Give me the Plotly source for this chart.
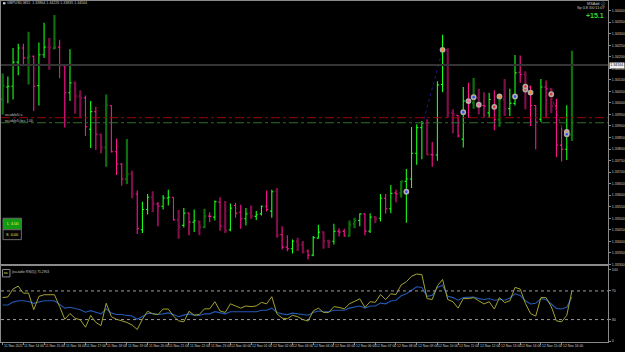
import plotly.graph_objects as go

# ---------------- data (GBPUSD M15, 11 Nov 2021 13:00 -> 12 Nov 2021 16:30) ----------------
opens = [
    1.34015, 1.34069, 1.34072, 1.34177, 1.34238, 1.34195, 1.34202, 1.34075, 1.34209, 1.34242,
    1.34236, 1.34242, 1.34160, 1.34044, 1.34087, 1.34029, 1.34022, 1.33886, 1.33962, 1.33864,
    1.33807, 1.33989, 1.33788, 1.33735, 1.33670, 1.33692, 1.33605, 1.33450, 1.33538, 1.33591,
    1.33562, 1.33552, 1.33588, 1.33591, 1.33493, 1.33469, 1.33522, 1.33483, 1.33486, 1.33462,
    1.33509, 1.33505, 1.33570, 1.33465, 1.33450, 1.33555, 1.33526, 1.33498, 1.33522, 1.33508,
    1.33519, 1.33552, 1.33531, 1.33617, 1.33429, 1.33375, 1.33368, 1.33400, 1.33386, 1.33358,
    1.33340, 1.33414, 1.33440, 1.33401, 1.33400, 1.33444, 1.33443, 1.33423, 1.33476, 1.33490,
    1.33519, 1.33444, 1.33505, 1.33500, 1.33587, 1.33541, 1.33610, 1.33608, 1.33660, 1.33670,
    1.33782, 1.33893, 1.33912, 1.33776, 1.33774, 1.34080, 1.34228, 1.33957, 1.33946, 1.33843,
    1.34008, 1.34000, 1.34022, 1.33989, 1.33957, 1.33986, 1.33929, 1.34015, 1.33975, 1.33998,
    1.34133, 1.34123, 1.34069, 1.33989, 1.33929, 1.34069, 1.34061, 1.33986, 1.33817, 1.33799,
    1.33864]
highs = [
    1.34127, 1.34115, 1.34238, 1.34256, 1.34256, 1.34309, 1.34205, 1.34262, 1.34347, 1.34281,
    1.34381, 1.34274, 1.34161, 1.34233, 1.34093, 1.34055, 1.34032, 1.34008, 1.33983, 1.33866,
    1.34036, 1.33990, 1.33845, 1.33738, 1.33843, 1.33706, 1.33620, 1.33572, 1.33605, 1.33617,
    1.33570, 1.33601, 1.33623, 1.33591, 1.33536, 1.33544, 1.33524, 1.33538, 1.33490, 1.33541,
    1.33526, 1.33577, 1.33591, 1.33575, 1.33564, 1.33567, 1.33559, 1.33544, 1.33555, 1.33531,
    1.33555, 1.33620, 1.33624, 1.33631, 1.33465, 1.33426, 1.33408, 1.33416, 1.33401, 1.33365,
    1.33423, 1.33472, 1.33443, 1.33407, 1.33476, 1.33457, 1.33455, 1.33490, 1.33502, 1.33522,
    1.33519, 1.33522, 1.33509, 1.33605, 1.33605, 1.33644, 1.33624, 1.33663, 1.33713, 1.33896,
    1.33907, 1.33922, 1.33929, 1.33831, 1.34094, 1.34295, 1.34237, 1.33972, 1.33946, 1.34069,
    1.34087, 1.34108, 1.34061, 1.34046, 1.34044, 1.34055, 1.34026, 1.34104, 1.34061, 1.34208,
    1.34205, 1.34137, 1.34075, 1.33989, 1.34104, 1.34097, 1.34065, 1.34018, 1.33893, 1.33990,
    1.34226]
lows = [
    1.33950, 1.33998, 1.34015, 1.34120, 1.34159, 1.34080, 1.33965, 1.33989, 1.34195, 1.34144,
    1.34233, 1.34107, 1.33893, 1.34008, 1.33953, 1.33933, 1.33857, 1.33804, 1.33796, 1.33782,
    1.33723, 1.33785, 1.33687, 1.33641, 1.33649, 1.33587, 1.33432, 1.33436, 1.33516, 1.33526,
    1.33465, 1.33538, 1.33555, 1.33490, 1.33411, 1.33460, 1.33426, 1.33440, 1.33426, 1.33457,
    1.33483, 1.33490, 1.33446, 1.33436, 1.33444, 1.33502, 1.33455, 1.33469, 1.33498, 1.33492,
    1.33512, 1.33529, 1.33502, 1.33416, 1.33365, 1.33357, 1.33347, 1.33358, 1.33347, 1.33321,
    1.33335, 1.33411, 1.33368, 1.33371, 1.33386, 1.33421, 1.33421, 1.33421, 1.33457, 1.33465,
    1.33426, 1.33436, 1.33479, 1.33486, 1.33519, 1.33522, 1.33569, 1.33590, 1.33480, 1.33631,
    1.33732, 1.33756, 1.33774, 1.33723, 1.33749, 1.34046, 1.33936, 1.33868, 1.33850, 1.33807,
    1.33936, 1.33975, 1.33950, 1.33936, 1.33936, 1.33881, 1.33897, 1.33943, 1.33943, 1.33989,
    1.34087, 1.33972, 1.33900, 1.33799, 1.33917, 1.33936, 1.33955, 1.33766, 1.33746, 1.33752,
    1.33835]
closes = [
    1.34075, 1.34072, 1.34177, 1.34238, 1.34195, 1.34202, 1.34072, 1.34209, 1.34242, 1.34240,
    1.34240, 1.34161, 1.34044, 1.34087, 1.34029, 1.34022, 1.33897, 1.33962, 1.33864, 1.33807,
    1.33989, 1.33788, 1.33735, 1.33670, 1.33692, 1.33605, 1.33455, 1.33538, 1.33591, 1.33562,
    1.33552, 1.33588, 1.33591, 1.33493, 1.33462, 1.33522, 1.33483, 1.33489, 1.33462, 1.33509,
    1.33508, 1.33572, 1.33465, 1.33446, 1.33544, 1.33522, 1.33498, 1.33519, 1.33509, 1.33515,
    1.33552, 1.33538, 1.33615, 1.33426, 1.33375, 1.33368, 1.33401, 1.33383, 1.33354, 1.33340,
    1.33416, 1.33440, 1.33401, 1.33397, 1.33443, 1.33440, 1.33423, 1.33472, 1.33490, 1.33519,
    1.33444, 1.33505, 1.33498, 1.33587, 1.33541, 1.33608, 1.33605, 1.33660, 1.33670, 1.33782,
    1.33893, 1.33912, 1.33776, 1.33774, 1.34078, 1.34230, 1.33957, 1.33950, 1.33857, 1.34008,
    1.34000, 1.34022, 1.33989, 1.33986, 1.34015, 1.33929, 1.34015, 1.33975, 1.33998, 1.34130,
    1.34123, 1.34075, 1.33989, 1.33917, 1.34069, 1.34061, 1.33986, 1.33817, 1.33799, 1.33864,
    1.34164]
dim_bars = [0, 5, 9, 10, 14, 15, 19, 20, 24, 25, 29, 34, 38, 39, 43, 48, 53, 57, 58, 62, 63,
            67, 68, 72, 77, 82, 86, 87, 91, 92, 96, 97, 101, 106, 110]

rsi_fast = [
    60.7, 61.6, 72.7, 76.7, 66.9, 66.9, 43.8, 62.4, 64.7, 64.7, 64.7, 48.2, 30.4, 38.4, 31.8,
    29.6, 19.3, 35.8, 26.0, 21.6, 52.7, 34.0, 30.4, 28.2, 26.0, 22.4, 16.2, 30.4, 41.6, 38.0,
    37.1, 44.7, 44.7, 34.9, 28.2, 26.9, 41.6, 36.2, 37.1,
    45, 45, 55, 42, 40, 52, 49, 46, 49, 48, 49, 54, 52, 62, 38, 32, 31, 36, 34, 30, 28, 42, 46,
    40, 40, 48, 47, 45, 52, 55, 59, 47, 55, 54, 65, 58, 66, 65,
    78.4, 82.9, 90.4, 93.6, 92.7, 59.3, 58.0, 77.1, 86.0, 58.0, 54.9, 46.0, 59.3, 59.3, 60.7,
    56.2, 51.8, 54.9, 44.7, 60.7, 53.6, 56.2, 74.9, 72.7, 52.7, 38.4, 34.9, 60.7, 60.7, 48.2,
    28.2, 26.9, 35.8, 70.4]
rsi_slow = [
    50.4, 50.4, 54.4, 56.2, 56.2, 55.3, 52.7, 54.9, 56.2, 56.2, 56.2, 51.3, 46.0, 47.3, 46.0,
    43.8, 40.2, 42.4, 40.2, 38.0, 44.7, 39.3, 37.1, 37.1, 35.8, 34.9, 30.4, 34.9, 38.4, 38.4,
    37.1, 38.0, 39.3, 37.1, 34.0, 36.2, 38.0, 36.2, 35.8,
    38, 38, 41, 39, 38, 41, 41, 40, 41, 41, 41, 43, 43, 46, 40, 38, 37, 39, 38, 37, 36, 40, 42,
    41, 41, 43, 43, 43, 46, 47, 49, 46, 49, 49, 53, 52, 56, 57,
    63.3, 66.0, 71.3, 75.8, 74.9, 62.4, 63.8, 74.9, 78.0, 62.4, 60.7, 57.1, 60.7, 61.6, 61.6,
    59.3, 58.0, 59.3, 57.1, 58.0, 57.1, 60.2, 66.0, 63.8, 56.2, 51.8, 52.7, 59.3, 58.0, 51.8,
    45.6, 44.7, 47.3, 61.6]

time_labels = [
    "11 Nov 2021", "11 Nov 14:00", "11 Nov 15:00", "11 Nov 16:00", "11 Nov 17:00",
    "11 Nov 18:00", "11 Nov 19:00", "11 Nov 20:00", "11 Nov 21:00", "11 Nov 22:00",
    "11 Nov 23:00", "12 Nov 00:00", "12 Nov 01:00", "12 Nov 02:00", "12 Nov 03:00",
    "12 Nov 04:00", "12 Nov 05:00", "12 Nov 06:00", "12 Nov 07:00", "12 Nov 08:00",
    "12 Nov 09:00", "12 Nov 10:00", "12 Nov 11:00", "12 Nov 12:00", "12 Nov 13:00",
    "12 Nov 14:00", "12 Nov 15:00", "12 Nov 16:00"]
time_label_bars = list(range(0, 112, 4))

price_ticks = [round(1.3440 - 0.0005 * k, 4) for k in range(23)]
rsi_ticks = [0, 30, 70, 100]
rsi_levels = [30, 70]

# trade markers (bar, price, centre colour)
sig_bar = [78, 85, 89, 90, 91, 92, 95, 96, 99, 101, 101, 102, 106, 109, 109]
sig_price = [1.33615, 1.34230, 1.33960, 1.34008, 1.34025, 1.33992, 1.33983, 1.34028,
             1.34028, 1.34058, 1.34071, 1.34045, 1.34038, 1.33874, 1.33864]
sig_color = ["#3050ff", "#ff8c1a", "#3050ff", "#ff5fa8", "#3050ff", "#ff5fa8", "#e8303a",
             "#ff8c1a", "#3050ff", "#e8303a", "#e8303a", "#ff8c1a", "#e8303a", "#ff8c1a",
             "#3050ff"]
trend_blue_x, trend_blue_y = [81.4, 85.0], [1.33929, 1.34230]
trend_red_x, trend_red_y = [106.0, 108.3], [1.34029, 1.33878]
level_red = 1.33936
level_green = 1.33914

# ---------------- layout helpers ----------------
W, H = 625, 352
PLOT_W = 610
BAR_PX = 5.2
X0 = -1.7 / BAR_PX
X1 = X0 + PLOT_W / BAR_PX


def pxx(x):
    return x / W


def pxy(y):
    return 1 - y / H


n = len(closes)
bars = list(range(n))
dim_set = set(dim_bars)

GREEN = "#19ff19"
PINK = "#ff1493"
DGREEN = "#0d6e0d"
DPINK = "#7d0e48"
GRAY = "#8a8a8a"
TXT = "#c8c8c8"
FONT = "Liberation Sans"


def pick(vals, keep):
    return [v if keep(i) else None for i, v in enumerate(vals)]


fig = go.Figure()
for keep, inc, dec, wid in [
    (lambda i: i in dim_set, DGREEN, DPINK, 2.2),
    (lambda i: i not in dim_set, GREEN, PINK, 1.1),
]:
    fig.add_trace(go.Ohlc(
        x=bars, open=pick(opens, keep), high=pick(highs, keep), low=pick(lows, keep),
        close=pick(closes, keep), tickwidth=0.32, xaxis="x", yaxis="y",
        increasing=dict(line=dict(color=inc, width=wid)),
        decreasing=dict(line=dict(color=dec, width=wid)),
        hoverinfo="skip", showlegend=False))

fig.add_trace(go.Scatter(x=trend_blue_x, y=trend_blue_y, mode="lines", xaxis="x", yaxis="y",
                         line=dict(color="#1c1c80", width=1, dash="dot"), showlegend=False))
fig.add_trace(go.Scatter(x=trend_red_x, y=trend_red_y, mode="lines", xaxis="x", yaxis="y",
                         line=dict(color="#8a1414", width=1, dash="dot"), showlegend=False))
fig.add_trace(go.Scatter(x=sig_bar, y=sig_price, mode="markers", xaxis="x", yaxis="y",
                         marker=dict(size=4.2, color=sig_color,
                                     line=dict(color="#b4aca4", width=1.6)),
                         showlegend=False))

# RSI panel
fig.add_trace(go.Scatter(x=bars, y=rsi_slow, mode="lines", xaxis="x2", yaxis="y2",
                         line=dict(color="#2458b0", width=1.1), showlegend=False))
fig.add_trace(go.Scatter(x=bars, y=rsi_fast, mode="lines", xaxis="x2", yaxis="y2",
                         line=dict(color="#a2a232", width=1), showlegend=False))

main_top, main_bot = 1, 266
rsi_top, rsi_bot = 268, 344
price_at = lambda y: 1.3440 - (y - 10.7) * 0.0005 / 11.6
rsi_at = lambda y: 100 - (y - 271) / 0.72

axis_common = dict(showgrid=False, zeroline=False, showline=True, linecolor=GRAY,
                   linewidth=1, mirror=True, fixedrange=True)

fig.update_layout(
    width=W, height=H, margin=dict(l=0, r=0, t=0, b=0),
    paper_bgcolor="black", plot_bgcolor="black",
    font=dict(family=FONT, color=TXT, size=4),
    xaxis=dict(domain=[0, PLOT_W / W], range=[X0, X1], anchor="y", showticklabels=False,
               ticks="", rangeslider=dict(visible=False), **axis_common),
    yaxis=dict(domain=[pxy(main_bot), pxy(main_top)],
               range=[price_at(main_bot), price_at(main_top)], anchor="x", side="right",
               tickvals=price_ticks, ticktext=[f"{v:.5f}" for v in price_ticks],
               ticks="outside", ticklen=2, tickcolor=GRAY,
               tickfont=dict(size=3.6, color=TXT), **axis_common),
    xaxis2=dict(domain=[0, PLOT_W / W], range=[X0, X1], anchor="y2",
                tickvals=time_label_bars, showticklabels=False, ticks="outside", ticklen=2,
                tickcolor=GRAY, **axis_common),
    yaxis2=dict(domain=[pxy(rsi_bot), pxy(rsi_top)],
                range=[rsi_at(rsi_bot), rsi_at(rsi_top)], anchor="x2", side="right",
                tickvals=rsi_ticks, ticktext=[str(v) for v in rsi_ticks],
                ticks="outside", ticklen=2, tickcolor=GRAY,
                tickfont=dict(size=3.6, color=TXT), **axis_common),
)

shapes = []
# bid line, EA levels
shapes.append(dict(type="line", xref="x domain", yref="y", x0=0, x1=1, y0=closes[-1],
                   y1=closes[-1], line=dict(color="#343434", width=2)))
shapes.append(dict(type="line", xref="x domain", yref="y", x0=0, x1=1, y0=level_red,
                   y1=level_red, line=dict(color="#a00000", width=1, dash="dashdot")))
shapes.append(dict(type="line", xref="x domain", yref="y", x0=0, x1=1, y0=level_green,
                   y1=level_green, line=dict(color="#2c6e2c", width=1, dash="dashdot")))
for lv in rsi_levels:
    shapes.append(dict(type="line", xref="x2 domain", yref="y2", x0=0, x1=1, y0=lv, y1=lv,
                       line=dict(color="#9a9a9a", width=1, dash="dot")))
# L/S buttons
shapes.append(dict(type="rect", xref="paper", yref="paper", x0=pxx(2), x1=pxx(20.5),
                   y0=pxy(231), y1=pxy(219.5), fillcolor="#129a12",
                   line=dict(color="#6a6a6a", width=1)))
shapes.append(dict(type="rect", xref="paper", yref="paper", x0=pxx(2), x1=pxx(20.5),
                   y0=pxy(241), y1=pxy(231), fillcolor="#050505",
                   line=dict(color="#6a6a6a", width=1)))
# header square & RSI icon box
shapes.append(dict(type="rect", xref="paper", yref="paper", x0=pxx(2), x1=pxx(4.5),
                   y0=pxy(4.3), y1=pxy(2.3), fillcolor="#dddddd", line=dict(width=0)))
shapes.append(dict(type="rect", xref="paper", yref="paper", x0=pxx(1.5), x1=pxx(9),
                   y0=pxy(278.5), y1=pxy(271), fillcolor="black",
                   line=dict(color="#8a8a8a", width=1)))
fig.update_layout(shapes=shapes)

ann = []


def note(x, y, text, size=3.6, color=TXT, xanchor="left", **kw):
    ann.append(dict(xref="paper", yref="paper", x=pxx(x), y=pxy(y), text=text,
                    showarrow=False, xanchor=xanchor, yanchor="middle",
                    font=dict(size=size, color=color, family=FONT), borderpad=0, **kw))


note(5.5, 3.3, f"GBPUSD,M15  {opens[-1]:.5f} {highs[-1]:.5f} {lows[-1]:.5f} {closes[-1]:.5f}")
note(608, 3.5, "MSAdd ⓘ", xanchor="right", size=3.8)
note(608, 8.2, "Sp 0.8 /00:11:07", xanchor="right", size=3.8)
note(607, 15.5, "<b>+15.1</b>", xanchor="right", size=7, color="#33d633")
note(3, 116, "ea.table1t a", size=3.3)
note(3, 121.2, "ea.table1t bcc 1.00", size=3.3)
note(11.3, 225.3, "L  4.00", size=3.8, color="#f2f25a", xanchor="center")
note(11.3, 236, "S  0.00", size=3.8, color="#e0e05a", xanchor="center")
note(5.2, 274.8, "ea", size=3.2, color="#e6e64a", xanchor="center")
note(10.5, 273.5, "(ea.table RSI(5)) 75.2953", size=3.3)
for b, t in zip(time_label_bars, time_labels):
    ann.append(dict(xref="x2", yref="paper", x=b, y=pxy(348.3), text=t, showarrow=False,
                    xanchor="left", yanchor="middle", borderpad=0,
                    font=dict(size=3.4, color=TXT, family=FONT)))
# current price tag
ann.append(dict(xref="paper", yref="y", x=pxx(611), y=closes[-1], text=f"{closes[-1]:.5f}",
                showarrow=False, xanchor="left", yanchor="middle", bgcolor="#f0f0f0",
                borderpad=0.3, font=dict(size=3.6, color="black", family=FONT)))
fig.update_layout(annotations=ann)

fig.write_html("out.html")
